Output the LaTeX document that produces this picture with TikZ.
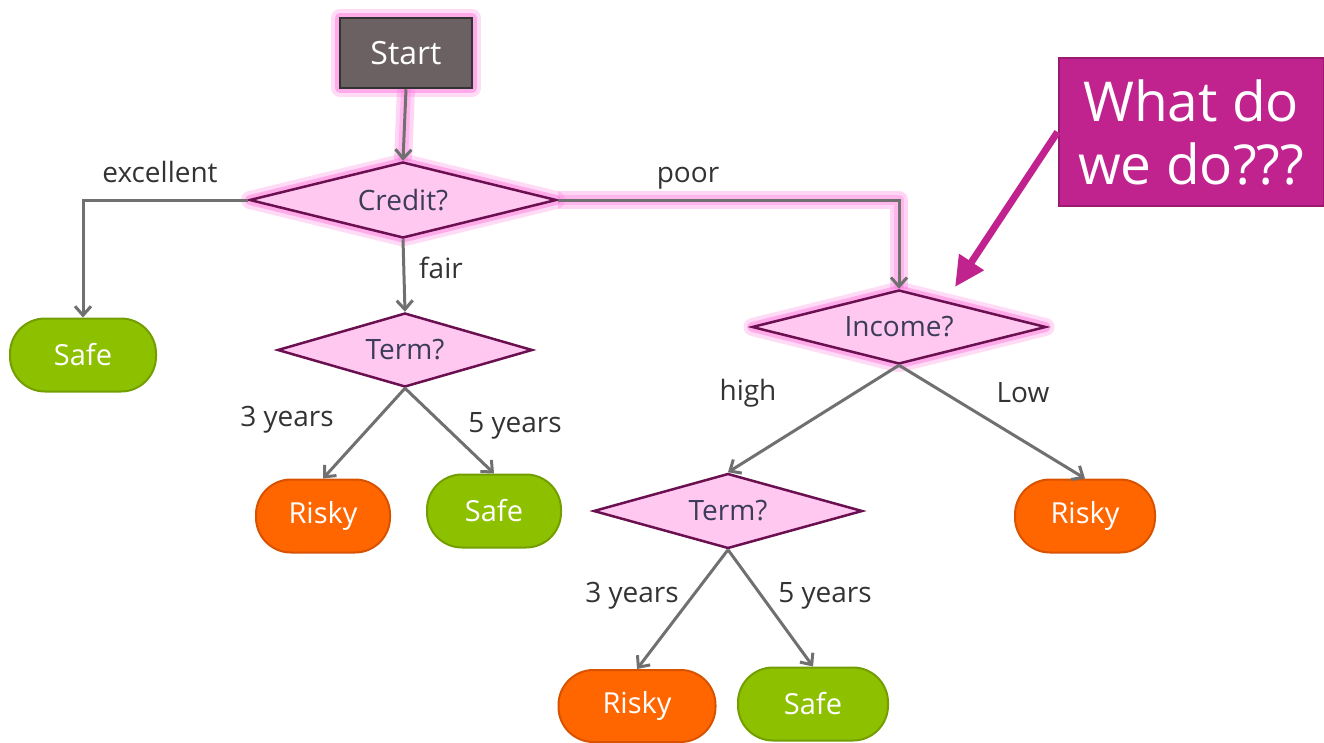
\documentclass[tikz,border=0pt]{standalone}
\usepackage{fontspec}
\setmainfont{Open Sans}
\usetikzlibrary{shapes.geometric,arrows.meta,backgrounds,calc}
\definecolor{startfill}{HTML}{6B6163}
\definecolor{startline}{HTML}{333333}
\definecolor{diafill}{HTML}{FFC8F0}
\definecolor{dialine}{HTML}{6A1050}
\definecolor{diatext}{HTML}{3C3C5A}
\definecolor{safefill}{HTML}{8DC100}
\definecolor{safeline}{HTML}{739E00}
\definecolor{riskfill}{HTML}{FF6600}
\definecolor{riskline}{HTML}{D95200}
\definecolor{magenta}{HTML}{C0228E}
\definecolor{magline}{HTML}{9A1A72}
\definecolor{glowpink}{HTML}{FF70DC}
\definecolor{conn}{HTML}{707070}
\definecolor{labtext}{HTML}{333333}
\tikzset{
  glow/.style={preaction={draw=glowpink,line width=18pt,opacity=0.25,line join=round},
               preaction={draw=glowpink,line width=10pt,opacity=0.45,line join=round}},
  glowline/.style={draw=glowpink,line width=#1,line join=round,opacity=0.3},
  startbox/.style={draw=startline,line width=2.5pt,fill=startfill,text=white,
    minimum width=132pt,minimum height=70pt,inner sep=0pt,font=\fontsize{32}{36}\selectfont},
  decision/.style={diamond,draw=dialine,line width=2.5pt,fill=diafill,text=diatext,
    inner sep=0pt,aspect=4,font=\fontsize{28}{32}\selectfont},
  leaf/.style={draw,line width=2pt,minimum height=73pt,rounded corners=35pt,inner sep=0pt,
    text=white,font=\fontsize{29}{34}\selectfont},
  safe/.style={leaf,fill=safefill,draw=safeline},
  risky/.style={leaf,fill=riskfill,draw=riskline},
  lab/.style={text=labtext,inner sep=0pt,font=\fontsize{28}{32}\selectfont},
  conline/.style={draw=conn,line width=3pt,-{Straight Barb[length=9pt,width=16pt,line width=3pt]}},
}
\begin{document}
\begin{tikzpicture}[x=1pt,y=-1pt]
\useasboundingbox (0,0) rectangle (1324,742);
% nodes
\node[startbox,glow] (start) at (406,53) {Start};
\node[decision,glow,minimum width=307pt,minimum height=76pt] (credit) at (403,200) {Credit?};
\node[decision,minimum width=255pt,minimum height=74pt] (term1) at (405,350) {Term?};
\node[decision,glow,minimum width=294pt,minimum height=74pt] (income) at (899,327) {Income?};
\node[decision,minimum width=269pt,minimum height=75pt] (term2) at (728,511) {Term?};
\node[safe,minimum width=146pt] (safe1) at (83,355) {Safe};
\node[risky,minimum width=134pt] (risky1) at (323,516) {Risky};
\node[safe,minimum width=134pt] (safe2) at (494,511) {Safe};
\node[risky,minimum width=140pt] (risky2) at (1085,516) {Risky};
\node[risky,minimum width=157pt,minimum height=72pt] (risky3) at (637,706) {Risky};
\node[safe,minimum width=150pt] (safe3) at (813,704) {Safe};
\node[draw=magline,line width=2pt,fill=magenta,text=white,minimum width=265pt,minimum height=148pt,
  inner sep=0pt,align=center,font=\fontsize{55}{63}\selectfont] (what) at (1191,132) {What do\\we do???};
\coordinate (tip) at (955,287);
% glow behind highlighted connectors
\begin{scope}[on background layer]
  \draw[glowline=18pt] (start.south) -- (credit.north);
  \draw[glowline=10pt] (start.south) -- (credit.north);
  \draw[glowline=18pt] (credit.east) -| (income.north);
  \draw[glowline=10pt] (credit.east) -| (income.north);
\end{scope}
% connectors
\draw[conline] (start.south) -- (credit.north);
\draw[conline] (credit.west) -| (safe1.north);
\draw[conline] (credit.south) -- (term1.north);
\draw[conline] (credit.east) -| (income.north);
\draw[conline] (term1.south) -- (risky1.north);
\draw[conline] (term1.south) -- (safe2.north);
\draw[conline] (income.south) -- (term2.north);
\draw[conline] (income.south) -- (risky2.north);
\draw[conline] (term2.south) -- (risky3.north);
\draw[conline] (term2.south) -- (safe3.north);
\draw[magenta,line width=7pt,-{Triangle[length=30pt,width=28pt]}] (what.west) -- (tip);
% labels
\node[lab] (lexc) at (160,172) {excellent};
\node[lab] (lfair) at (441,268) {fair};
\node[lab] (lpoor) at (688,178) {poor};
\node[lab] (l3a) at (287,420) {3 years};
\node[lab] (l5a) at (515,426) {5 years};
\node[lab] (lhigh) at (748,393) {high};
\node[lab] (llow) at (1023,393) {Low};
\node[lab] (l3b) at (632,596) {3 years};
\node[lab] (l5b) at (825,596) {5 years};
\end{tikzpicture}
\end{document}
